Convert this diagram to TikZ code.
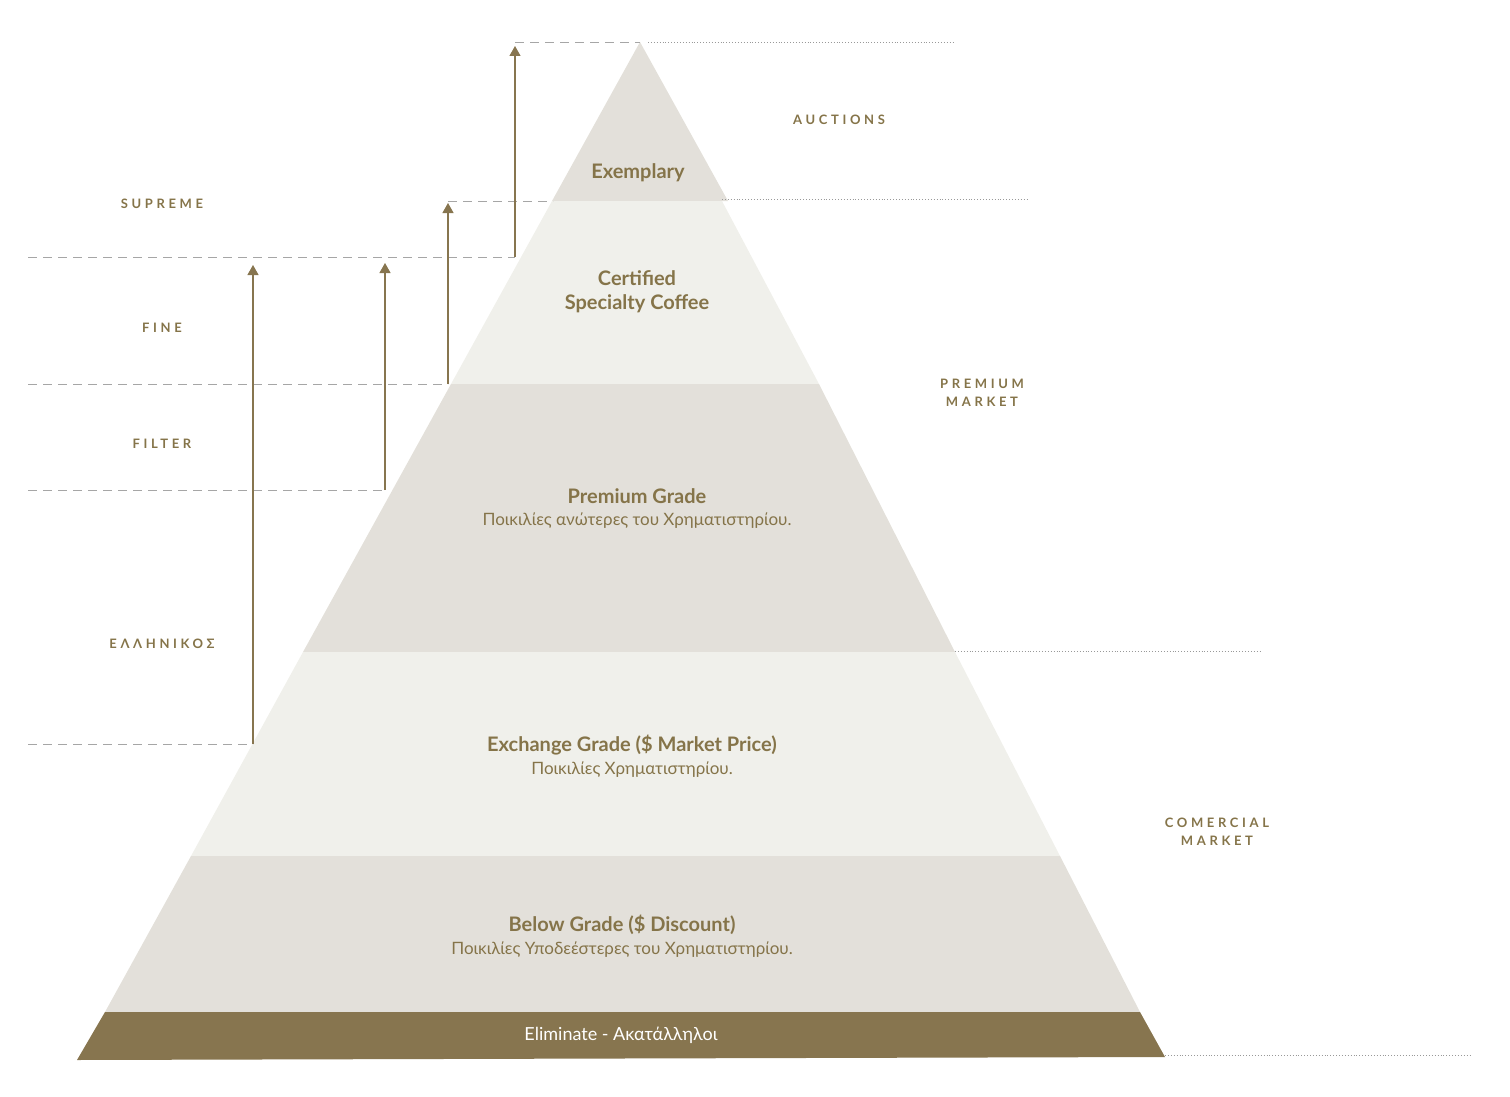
\documentclass[tikz,border=0pt]{standalone}
\usepackage{fontspec}
\setmainfont{Lato}
\newfontfamily\spaced[LetterSpace=28]{Lato Bold}
\usetikzlibrary{arrows.meta}
\definecolor{dk}{HTML}{E3E0DA}
\definecolor{lt}{HTML}{F0F0EB}
\definecolor{br}{HTML}{87754F}
\definecolor{tx}{HTML}{857449}
\tikzset{
 lay/.style={draw=none},
 dsh/.style={draw=gray!70,dash pattern=on 9pt off 6pt,line width=0.9pt},
 dot/.style={draw=gray!80,dotted,line width=0.9pt},
 arr/.style={draw=br,line width=1.2pt,-{Triangle[width=11pt,length=10pt]}},
 tag/.style={font=\spaced\fontsize{13}{18}\selectfont,text=tx,align=center},
 ttl/.style={font=\bfseries\fontsize{20}{24}\selectfont,text=tx,align=center},
 sub/.style={font=\fontsize{17}{20}\selectfont,text=tx}
}
\begin{document}
\begin{tikzpicture}[x=1pt,y=-1pt]
\useasboundingbox (0,0) rectangle (1510,1097);
\def\L#1{{640-0.552*(#1-42)}}
\def\R#1{{640+0.5157*(#1-42)}}
\fill[dk] (640,42) -- (728,201) -- (552,201) -- cycle;
\fill[lt] (552,201) -- (722,201) -- (819,384) -- (451,384) -- cycle;
\fill[dk] (451,384) -- (819,384) -- (955,652) -- (303,652) -- cycle;
\fill[lt] (303,652) -- (955,652) -- (1060,856) -- (191,856) -- cycle;
\fill[dk] (191,856) -- (1060,856) -- (1140,1012) -- (105,1012) -- cycle;
\fill[br] (105,1012) -- (1140,1012) -- (1165,1057) -- (77,1060) -- cycle;
% nodes
\node[ttl] (ex) at (638,173) {Exemplary};
\node[ttl] (cs) at (637,292) {Certified\\Specialty Coffee};
\node[ttl] (pg) at (637,496) {Premium Grade};
\node[sub] (pgs) at (637,521) {Ποικιλίες ανώτερες του Χρηματιστηρίου.};
\node[ttl] (eg) at (632,745) {Exchange Grade (\$ Market Price)};
\node[sub] (egs) at (632,770) {Ποικιλίες Χρηματιστηρίου.};
\node[ttl] (bg) at (622,925) {Below Grade (\$ Discount)};
\node[sub] (bgs) at (622,950) {Ποικιλίες Υποδεέστερες του Χρηματιστηρίου.};
\node[font=\fontsize{18}{20}\selectfont,text=white] (el) at (621,1035) {Eliminate - Ακατάλληλοι};
% tags
\node[tag] (au) at (839,120) {AUCTIONS};
\node[tag] (su) at (162,204) {SUPREME};
\node[tag] (fi) at (162,328) {FINE};
\node[tag] (ft) at (162,444) {FILTER};
\node[tag] (gr) at (162,644) {ΕΛΛΗΝΙΚΟΣ};
\node[tag] (pm) at (982,393) {PREMIUM\\MARKET};
\node[tag] (cm) at (1217,832) {COMERCIAL\\MARKET};
% coordinates
\coordinate (a1) at (515,257); \coordinate (a1t) at (515,46);
\coordinate (a2) at (448,384); \coordinate (a2t) at (448,203);
\coordinate (a3) at (385,490); \coordinate (a3t) at (385,263);
\coordinate (a4) at (253,744); \coordinate (a4t) at (253,265);
\draw[dsh] (28,257) -- (a1);
\draw[dsh] (28,384) -- (a2);
\draw[dsh] (28,490) -- (a3);
\draw[dsh] (28,744) -- (a4);
\draw[dsh] (515,42) -- (640,42);
\draw[dsh] (448,201) -- (553,201);
\draw[arr] (a1) -- (a1t);
\draw[arr] (a2) -- (a2t);
\draw[arr] (a3) -- (a3t);
\draw[arr] (a4) -- (a4t);
\draw[dot] (648,42) -- (955,42);
\draw[dot] (722,199) -- (1028,199);
\draw[dot] (955,651) -- (1260,651);
\draw[dot] (1165,1055) -- (1470,1055);
\end{tikzpicture}
\end{document}
